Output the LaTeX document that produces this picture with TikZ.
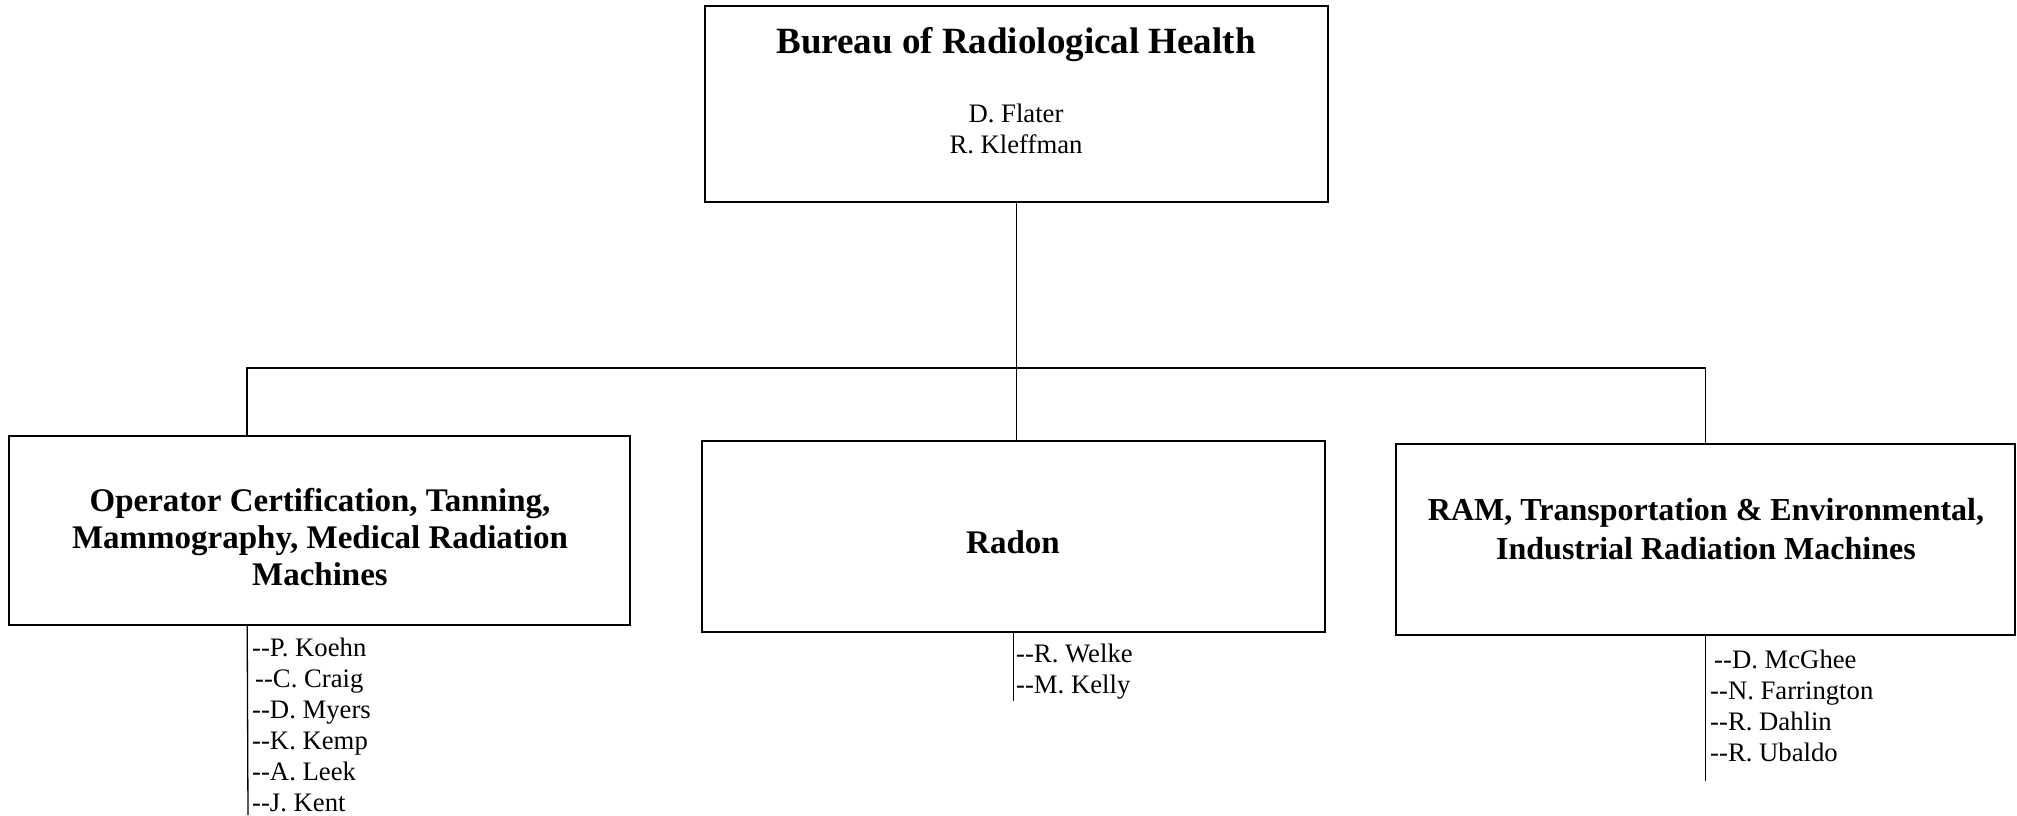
\documentclass[tikz,border=0pt]{standalone}
\usepackage{fontspec}
\setmainfont{Liberation Serif}[Ligatures=TeXOff]
\begin{document}
\begin{tikzpicture}[x=1pt,y=-1pt,
  box/.style={draw, line width=1.6pt, inner sep=0pt},
  ttl/.style={font=\fontsize{37}{42}\selectfont\bfseries, align=center, inner sep=0pt},
  sub/.style={font=\fontsize{33}{36.7}\selectfont\bfseries, align=center, inner sep=0pt},
  nm/.style={font=\fontsize{26.7}{31}\selectfont, align=center, inner sep=0pt},
  staff/.style={font=\fontsize{26.7}{31}\selectfont, inner sep=0pt, anchor=base west},
  link/.style={line width=1.6pt},
  thin/.style={line width=1.3pt}]
\useasboundingbox (0,0) rectangle (2017,815);
% boxes
\node[box, minimum width=623pt, minimum height=196pt] (top) at (1016.5,104) {};
\node[box, minimum width=621pt, minimum height=189pt] (left) at (319.5,530.5) {};
\node[box, minimum width=623pt, minimum height=191pt] (mid) at (1013.5,536.5) {};
\node[box, minimum width=619pt, minimum height=191pt] (right) at (1705.5,539.5) {};
% texts
\node[ttl] (toptitle) at (1016,45) {Bureau of Radiological Health};
\node[nm] (topnames) at (1016,129) {D. Flater\\R. Kleffman};
\node[sub] (lefttitle) at (320,537) {Operator Certification, Tanning,\\Mammography, Medical Radiation\\Machines};
\node[sub] (midtitle) at (1013,542) {Radon};
\node[sub, font=\fontsize{32}{38.5}\selectfont\bfseries] (righttitle) at (1706,529) {RAM, Transportation \& Environmental,\\Industrial Radiation Machines};
% connectors
\coordinate (bar) at (0,368);
\coordinate (lt) at ([xshift=239pt]left.north west);
\coordinate (lb) at ([xshift=239pt]left.south west);
\coordinate (lend) at (248,815);
\coordinate (mend) at (1013.5,701);
\coordinate (rend) at (1705.5,781);
\draw[link] (top.south) -- (top.south |- mid.north);
\draw[link] (lt) -- (lt |- bar) -- (right.north |- bar) -- (right.north);
\draw[thin] (lb) -- (lend);
\draw[thin] (mid.south) -- (mend);
\draw[thin] (right.south) -- (rend);
% staff
\node[staff] (s1) at (252,656) {--P. Koehn};
\node[staff] (s2) at (255,687) {--C. Craig};
\node[staff] (s3) at (252,718) {--D. Myers};
\node[staff] (s4) at (252,749) {--K. Kemp};
\node[staff] (s5) at (252,780) {--A. Leek};
\node[staff] (s6) at (252,811) {--J. Kent};
\node[staff] (m1) at (1016,662) {--R. Welke};
\node[staff] (m2) at (1016,693) {--M. Kelly};
\node[staff] (r1) at (1714,668) {--D. McGhee};
\node[staff] (r2) at (1710,699) {--N. Farrington};
\node[staff] (r3) at (1710,730) {--R. Dahlin};
\node[staff] (r4) at (1710,761) {--R. Ubaldo};
\end{tikzpicture}
\end{document}
